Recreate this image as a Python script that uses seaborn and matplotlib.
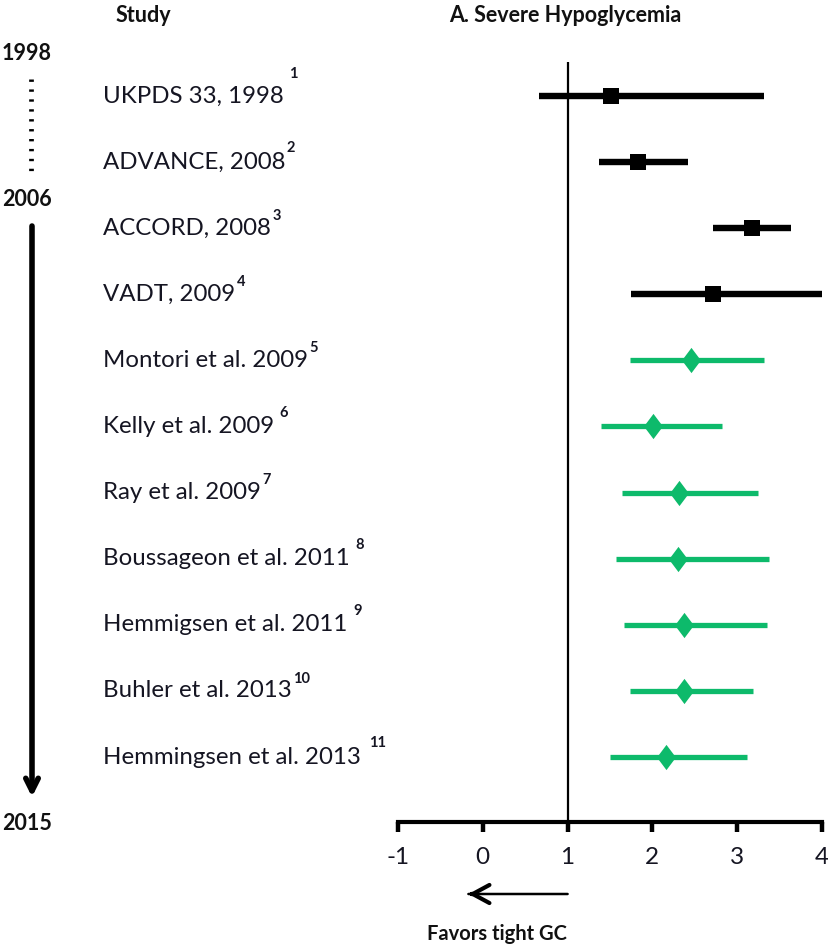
import numpy as np
import pandas as pd
import seaborn as sns
import matplotlib.pyplot as plt
from matplotlib.path import Path
from matplotlib.transforms import blended_transform_factory

# Study list with point estimates and confidence bounds
studies = [
    "UKPDS 33, 1998", "ADVANCE, 2008", "ACCORD, 2008", "VADT, 2009",
    "Montori et al. 2009", "Kelly et al. 2009", "Ray et al. 2009",
    "Boussageon et al. 2011", "Hemmigsen et al. 2011", "Buhler et al. 2013",
    "Hemmingsen et al. 2013",
]
refs = ["1", "2", "3", "4", "5", "6", "7", "8", "9", "10", "11"]
ref_gap = [4, 1, 1, 1, 1, 4, 1, 4, 4, 1, 6]
ref_rise = [4, -2, -3, -3, -3, -2, -3, -2, -2, -3, -2]
estimate = [1.51, 1.83, 3.17, 2.72, 2.46, 2.01, 2.31, 2.30, 2.37, 2.37, 2.16]
lower = [0.66, 1.37, 2.72, 1.75, 1.73, 1.39, 1.64, 1.57, 1.66, 1.73, 1.50]
upper = [3.32, 2.42, 3.63, 4.00, 3.32, 2.82, 3.24, 3.37, 3.35, 3.19, 3.12]
kind = ["Trial"] * 4 + ["Meta-analysis"] * 7
x_ticks = [-1, 0, 1, 2, 3, 4]
timeline_years = ["1998", "2006", "2015"]

df = pd.DataFrame({"study": studies, "est": estimate, "lo": lower,
                   "hi": upper, "kind": kind, "row": np.arange(len(studies))})

sns.set_style("white")
plt.rcParams["font.family"] = ["Lato", "DejaVu Sans"]
plt.rcParams["text.color"] = "#111111"

W, H = 829, 946
fig = plt.figure(figsize=(W / 100, H / 100), dpi=100)

# Main forest plot axes
ax = fig.add_axes([398 / W, (H - 822) / H, 424 / W, (822 - 62) / H])
black, green = "#000000", "#0DBA6B"
palette = {"Trial": black, "Meta-analysis": green}

for _, r in df.iterrows():
    c = palette[r["kind"]]
    lw = 4.6 if r["kind"] == "Trial" else 3.8
    ax.hlines(r["row"], r["lo"], r["hi"], color=c, lw=lw, zorder=2)

diamond = Path([(0, 1.2), (0.9, 0), (0, -1.2), (-0.9, 0), (0, 1.2)],
               [Path.MOVETO, Path.LINETO, Path.LINETO, Path.LINETO, Path.CLOSEPOLY])
sns.scatterplot(data=df[df.kind == "Trial"], x="est", y="row", marker="s",
                color=black, s=130, linewidth=0, ax=ax, zorder=3, legend=False)
sns.scatterplot(data=df[df.kind == "Meta-analysis"], x="est", y="row",
                marker=diamond, color=green, s=330, linewidth=0, ax=ax,
                zorder=3, legend=False)

ax.axvline(1, color="black", lw=1.6, zorder=1)
ax.set_xlim(-1, 4)
step = 66.1
ax.set_ylim((822 - 96) / step, -(96 - 62) / step)
ax.set_xticks(x_ticks)
ax.set_xticklabels([str(t) for t in x_ticks], fontsize=17.5)
ax.set_yticks([])
ax.set_xlabel("")
ax.set_ylabel("")
for s in ["top", "right", "left"]:
    ax.spines[s].set_visible(False)
ax.spines["bottom"].set_linewidth(3)
ax.spines["bottom"].set_color("black")
ax.spines["bottom"].set_capstyle("projecting")
ax.tick_params(axis="x", bottom=True, direction="out", length=7, width=3.2,
               pad=11, colors="black", labelcolor="#151522")

# Study labels with reference superscripts
lab_tr = blended_transform_factory(fig.transFigure, ax.transData)
for i, (name, ref, gap, rise) in enumerate(zip(studies, refs, ref_gap, ref_rise)):
    t = ax.text(103 / W, i, name, transform=lab_tr, fontsize=17.3,
                va="center", ha="left", color="#151522")
    ax.annotate(ref, xy=(1, 0.95), xycoords=t, xytext=(gap, rise),
                textcoords="offset points", fontsize=10.5, fontweight="bold",
                va="bottom", ha="left", color="#151522")

# Overlay in pixel coordinates for headers and the timeline
ov = fig.add_axes([0, 0, 1, 1], facecolor="none")
ov.set_xlim(0, W)
ov.set_ylim(H, 0)
ov.axis("off")

hdr = dict(fontsize=15.5, fontweight="bold", ha="center", va="center",
           color="#111111")
ov.text(143, 16, "Study", **hdr)
ov.text(565, 16, "A. Severe Hypoglycemia", **hdr)

ov.text(27, 53, timeline_years[0], **hdr)
ov.text(27, 199, timeline_years[1], **hdr)
ov.text(27, 823, timeline_years[2], **hdr)
ov.plot([31, 31], [79, 172], color="black", lw=3.4, ls=(0, (0.5, 1.6)),
        dash_capstyle="butt")
ov.annotate("", xy=(32, 797), xytext=(32, 226),
            arrowprops=dict(arrowstyle="->,head_length=0.9,head_width=0.45",
                            color="black", lw=4, shrinkA=0, shrinkB=0))

# "Favors tight GC" arrow under the axis: thin shaft, bold open head
ax.annotate("", xy=(-0.17, 52), xycoords=("data", "figure pixels"),
            xytext=(1.0, 52), textcoords=("data", "figure pixels"),
            arrowprops=dict(arrowstyle="-", color="black", lw=1.8,
                            shrinkA=0, shrinkB=0),
            annotation_clip=False)
ax.annotate("", xy=(-0.17, 52), xycoords=("data", "figure pixels"),
            xytext=(-0.12, 52), textcoords=("data", "figure pixels"),
            arrowprops=dict(arrowstyle="->,head_length=1.2,head_width=0.65",
                            color="black", lw=3.0, shrinkA=0, shrinkB=0),
            annotation_clip=False)
ov.text(497, 934, "Favors tight GC", fontsize=14.5, fontweight="bold",
        ha="center", va="center", color="#111111")

fig.savefig("out.png", dpi=100)
